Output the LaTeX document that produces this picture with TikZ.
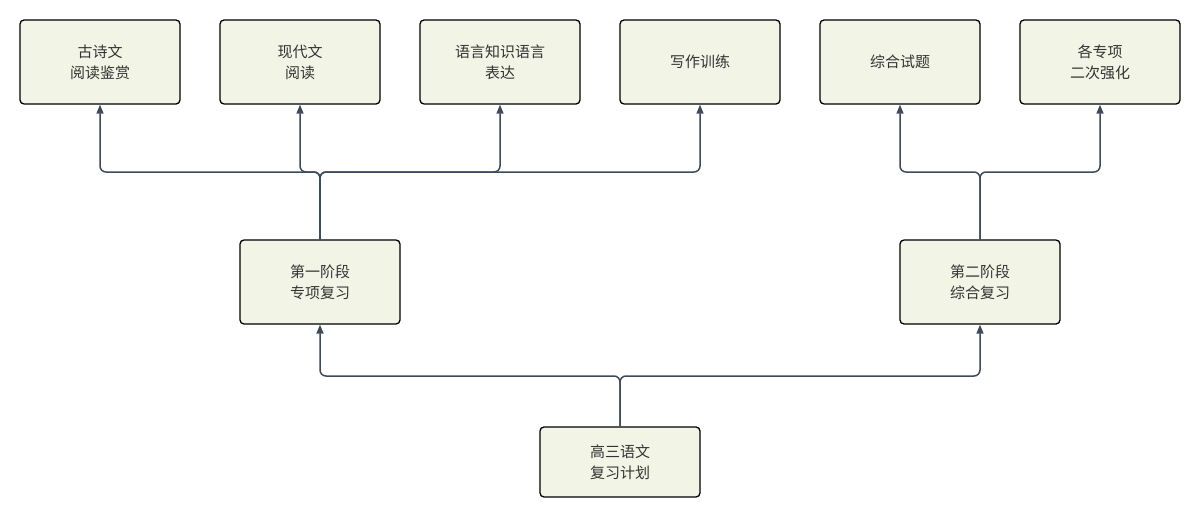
\documentclass[tikz,border=0pt]{standalone}
\usepackage{fontspec}
\newfontfamily\cjk{Noto Sans CJK SC}
\usetikzlibrary{arrows.meta}
\definecolor{boxfill}{HTML}{F2F5E6}
\definecolor{linec}{HTML}{3D4A5C}
\begin{document}
\begin{tikzpicture}[x=1pt,y=-1pt,
  box/.style={draw=black,line width=1.3pt,fill=boxfill,rounded corners=4pt,minimum width=160pt,minimum height=84pt,align=center,font=\cjk\fontsize{15}{21}\selectfont,text=black!80},
  conn/.style={draw=linec,line width=1.5pt,rounded corners=6pt,-{Triangle[length=9pt,width=7pt]}}]
\useasboundingbox (0,0) rectangle (1200,517);
\node[box] (t1) at (100,62) {古诗文\\阅读鉴赏};
\node[box] (t2) at (300,62) {现代文\\阅读};
\node[box] (t3) at (500,62) {语言知识语言\\表达};
\node[box] (t4) at (700,62) {写作训练};
\node[box] (t5) at (900,62) {综合试题};
\node[box] (t6) at (1100,62) {各专项\\二次强化};
\node[box] (m1) at (320,282) {第一阶段\\专项复习};
\node[box] (m2) at (980,282) {第二阶段\\综合复习};
\node[box,minimum height=70pt] (b) at (620,462) {高三语文\\复习计划};
\foreach \t in {t1,t2,t3,t4} \draw[conn] (m1.north) -- (m1.north |- 0,172) -| (\t.south);
\foreach \t in {t5,t6} \draw[conn] (m2.north) -- (m2.north |- 0,172) -| (\t.south);
\foreach \t in {m1,m2} \draw[conn] (b.north) -- (b.north |- 0,376) -| (\t.south);
\end{tikzpicture}
\end{document}
